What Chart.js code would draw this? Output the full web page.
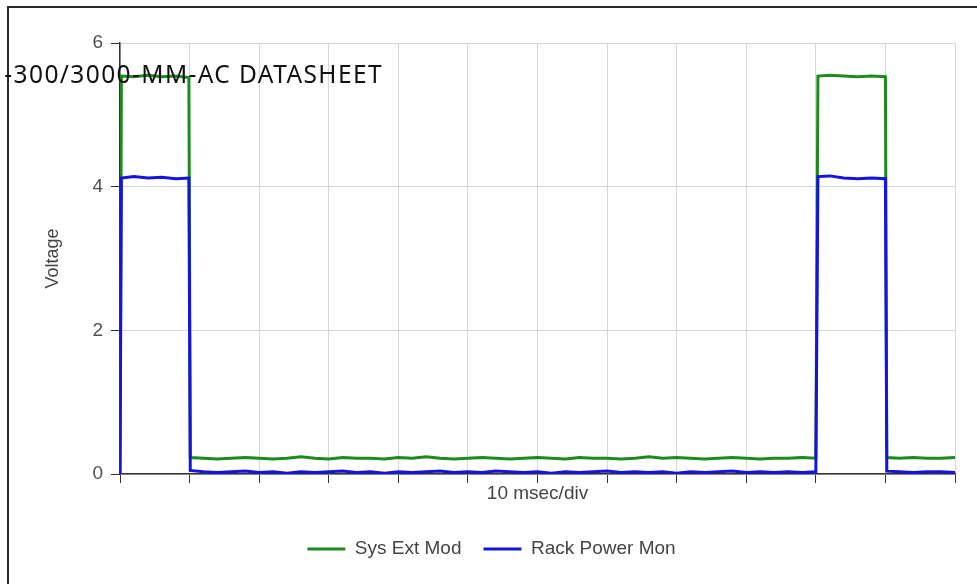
<!DOCTYPE html>
<html>
<head>
<meta charset="utf-8">
<script src="https://cdn.jsdelivr.net/npm/chart.js@4"></script>
<style>
  body { margin: 0; background: #fff; }
  #wrap { position: relative; width: 977px; height: 584px; overflow: hidden; }
  #frame { position: absolute; left: 7px; top: 6px; width: 1000px; height: 600px;
    border-left: 2px solid #2a2a2a; border-top: 2px solid #2a2a2a; }
  #doc-title { position: absolute; right: 594px; top: 61px; white-space: nowrap;
    font-family: "Noto Sans", sans-serif; font-size: 24.5px; line-height: 25px;
    letter-spacing: 1.4px; color: #111; }
</style>
</head>
<body>
<div id="wrap">
  <div id="frame"></div>
  <canvas id="scopeChart"></canvas>
  <div id="doc-title">-300/3000-MM-AC DATASHEET</div>
</div>
<script>
// thời gian (ms), 10 msec/div
const times = [0, 0.2, 2, 4, 6, 8, 9.9,
  10.1, 12, 14, 16, 18, 20, 22, 24, 26, 28, 30, 32, 34, 36, 38, 40, 42, 44, 46, 48, 50,
  52, 54, 56, 58, 60, 62, 64, 66, 68, 70, 72, 74, 76, 78, 80, 82, 84, 86, 88, 90, 92, 94, 96, 98, 100,
  100.3, 102, 104, 106, 108, 110,
  110.2, 112, 114, 116, 118, 120];

// Sys Ext Mod (V)
const sysExtMod = [0, 5.54, 5.53, 5.55, 5.53, 5.54, 5.52,
  0.23, 0.22, 0.21, 0.22, 0.23, 0.22, 0.21, 0.22, 0.24, 0.22,
  0.21, 0.23, 0.22, 0.22, 0.21, 0.23, 0.22, 0.24, 0.22, 0.21,
  0.22, 0.23, 0.22, 0.21, 0.22, 0.23, 0.22, 0.21, 0.23, 0.22,
  0.22, 0.21, 0.22, 0.24, 0.22, 0.23, 0.22, 0.21, 0.22, 0.23,
  0.22, 0.21, 0.22, 0.22, 0.23, 0.22,
  5.54, 5.55, 5.54, 5.53, 5.54, 5.53,
  0.23, 0.22, 0.23, 0.22, 0.22, 0.23];

// Rack Power Mon (V)
const rackPowerMon = [0, 4.12, 4.14, 4.12, 4.13, 4.11, 4.12,
  0.05, 0.03, 0.02, 0.03, 0.04, 0.02, 0.03, 0.01, 0.03, 0.02,
  0.03, 0.04, 0.02, 0.03, 0.01, 0.03, 0.02, 0.03, 0.04, 0.02,
  0.03, 0.02, 0.04, 0.03, 0.02, 0.03, 0.01, 0.03, 0.02, 0.03,
  0.04, 0.02, 0.03, 0.02, 0.03, 0.01, 0.03, 0.02, 0.03, 0.04,
  0.02, 0.03, 0.02, 0.03, 0.02, 0.03,
  4.14, 4.15, 4.12, 4.11, 4.12, 4.11,
  0.04, 0.03, 0.02, 0.03, 0.03, 0.02];

const yTicks = [0, 2, 4, 6];

const FONT = '"Liberation Sans", Arial, sans-serif';

function toPoints(values) {
  return values.map((v, i) => ({ x: times[i], y: v }));
}

new Chart(document.getElementById('scopeChart'), {
  type: 'line',
  data: {
    datasets: [
      {
        label: 'Sys Ext Mod',
        data: toPoints(sysExtMod),
        borderColor: '#1e8a1e',
        backgroundColor: '#1e8a1e',
        borderWidth: 3,
        pointRadius: 0,
        tension: 0,
        order: 2
      },
      {
        label: 'Rack Power Mon',
        data: toPoints(rackPowerMon),
        borderColor: '#1414dc',
        backgroundColor: '#1414dc',
        borderWidth: 3,
        pointRadius: 0,
        tension: 0,
        order: 1
      }
    ]
  },
  options: {
    responsive: true,
    maintainAspectRatio: false,
    animation: false,
    layout: { padding: { left: 28, top: 43, right: 22, bottom: 15.5 } },
    plugins: {
      tooltip: { enabled: false },
      legend: {
        position: 'bottom',
        labels: {
          sort: (a, b) => a.datasetIndex - b.datasetIndex,
          usePointStyle: true,
          pointStyle: 'line',
          pointStyleWidth: 38,
          padding: 22,
          color: '#444',
          font: { family: FONT, size: 19 }
        }
      }
    },
    scales: {
      x: {
        type: 'linear',
        min: 0,
        max: 120,
        afterFit: (scale) => { scale.height = 43.5; },
        ticks: { stepSize: 10, display: false },
        grid: { color: '#d6d6d6', tickColor: '#333', tickLength: 9 },
        border: { color: '#333', width: 1.5 },
        title: {
          display: true,
          text: '10 msec/div',
          color: '#444',
          font: { family: FONT, size: 19 },
          padding: { top: 0, bottom: 12 }
        }
      },
      y: {
        min: 0,
        max: 6,
        afterFit: (scale) => { scale.width = 92; },
        afterBuildTicks: (scale) => { scale.ticks = yTicks.map(v => ({ value: v })); },
        ticks: { color: '#505050', padding: 8, font: { family: FONT, size: 19 } },
        grid: { color: '#d6d6d6', tickColor: '#333', tickLength: 9 },
        border: { color: '#333', width: 1.5 },
        title: {
          display: true,
          text: 'Voltage',
          color: '#444',
          font: { family: FONT, size: 18 },
          padding: { top: 14, bottom: 0 }
        }
      }
    }
  }
});
</script>
</body>
</html>
